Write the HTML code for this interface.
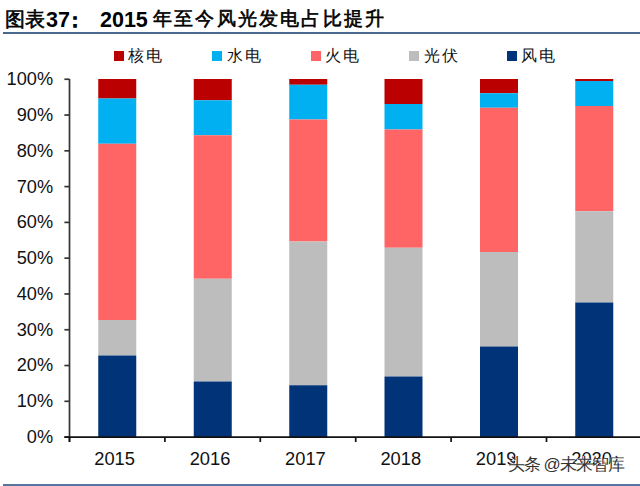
<!DOCTYPE html>
<html><head><meta charset="utf-8"><style>
html,body{margin:0;padding:0;background:#fff;width:640px;height:486px;overflow:hidden;position:relative}
.t{position:absolute;white-space:nowrap;line-height:1}
.ttl{font-family:"Liberation Serif",serif;font-weight:400;-webkit-text-stroke:0.6px #000;font-size:20px;color:#000}
.num{font-family:"Liberation Sans",sans-serif;font-weight:bold;font-size:21.5px;color:#000}
.lg{font-family:"Liberation Serif",serif;font-size:16px;color:#111;letter-spacing:2px}
.mk{position:absolute;width:10px;height:10px}
.hl{position:absolute;left:3px;width:637px;background:#56759F}
.wm{font-family:"Liberation Sans",sans-serif;font-size:17px;letter-spacing:-0.9px;color:#333;text-shadow:0.5px 0.5px 0 #fff,-0.5px -0.5px 0 #fff}
</style></head><body>
<svg width="640" height="486" viewBox="0 0 640 486" style="position:absolute;left:0;top:0">
<rect x="98.25" y="79" width="38" height="19.50" fill="#BA0000"/><rect x="98.25" y="98.5" width="38" height="45.25" fill="#00B0F0"/><rect x="98.25" y="143.75" width="38" height="176.25" fill="#FF6565"/><rect x="98.25" y="320" width="38" height="35.50" fill="#BDBDBD"/><rect x="98.25" y="355.5" width="38" height="81.60" fill="#003378"/><rect x="193.75" y="79" width="38" height="21.25" fill="#BA0000"/><rect x="193.75" y="100.25" width="38" height="35.00" fill="#00B0F0"/><rect x="193.75" y="135.25" width="38" height="143.50" fill="#FF6565"/><rect x="193.75" y="278.75" width="38" height="102.75" fill="#BDBDBD"/><rect x="193.75" y="381.5" width="38" height="55.60" fill="#003378"/><rect x="289.25" y="79" width="38" height="5.75" fill="#BA0000"/><rect x="289.25" y="84.75" width="38" height="34.75" fill="#00B0F0"/><rect x="289.25" y="119.5" width="38" height="122.00" fill="#FF6565"/><rect x="289.25" y="241.5" width="38" height="143.75" fill="#BDBDBD"/><rect x="289.25" y="385.25" width="38" height="51.85" fill="#003378"/><rect x="384.5" y="79" width="38" height="25.00" fill="#BA0000"/><rect x="384.5" y="104" width="38" height="25.50" fill="#00B0F0"/><rect x="384.5" y="129.5" width="38" height="118.25" fill="#FF6565"/><rect x="384.5" y="247.75" width="38" height="128.75" fill="#BDBDBD"/><rect x="384.5" y="376.5" width="38" height="60.60" fill="#003378"/><rect x="480" y="79" width="38" height="14.25" fill="#BA0000"/><rect x="480" y="93.25" width="38" height="14.50" fill="#00B0F0"/><rect x="480" y="107.75" width="38" height="144.25" fill="#FF6565"/><rect x="480" y="252" width="38" height="94.50" fill="#BDBDBD"/><rect x="480" y="346.5" width="38" height="90.60" fill="#003378"/><rect x="575.25" y="79" width="38" height="2.00" fill="#BA0000"/><rect x="575.25" y="81" width="38" height="25.00" fill="#00B0F0"/><rect x="575.25" y="106" width="38" height="105.25" fill="#FF6565"/><rect x="575.25" y="211.25" width="38" height="91.25" fill="#BDBDBD"/><rect x="575.25" y="302.5" width="38" height="134.60" fill="#003378"/>
<g stroke="#333" stroke-width="1.7">
<line x1="69.5" y1="79" x2="69.5" y2="442"/>
<line x1="64.4" y1="437.10" x2="69.5" y2="437.10"/><line x1="64.4" y1="401.31" x2="69.5" y2="401.31"/><line x1="64.4" y1="365.53" x2="69.5" y2="365.53"/><line x1="64.4" y1="329.75" x2="69.5" y2="329.75"/><line x1="64.4" y1="293.96" x2="69.5" y2="293.96"/><line x1="64.4" y1="258.18" x2="69.5" y2="258.18"/><line x1="64.4" y1="222.39" x2="69.5" y2="222.39"/><line x1="64.4" y1="186.60" x2="69.5" y2="186.60"/><line x1="64.4" y1="150.82" x2="69.5" y2="150.82"/><line x1="64.4" y1="115.04" x2="69.5" y2="115.04"/><line x1="64.4" y1="79.25" x2="69.5" y2="79.25"/>
</g>
<g stroke="#111" stroke-width="1.7">
<line x1="64.4" y1="437.1" x2="640" y2="437.1"/>
<line x1="69.50" y1="437" x2="69.50" y2="442"/><line x1="164.90" y1="437" x2="164.90" y2="442"/><line x1="260.30" y1="437" x2="260.30" y2="442"/><line x1="355.70" y1="437" x2="355.70" y2="442"/><line x1="451.10" y1="437" x2="451.10" y2="442"/><line x1="546.50" y1="437" x2="546.50" y2="442"/><line x1="641.90" y1="437" x2="641.90" y2="442"/>
</g>
<g font-family="Liberation Sans, sans-serif" fill="#111">
<g font-size="18.2"><text x="53.1" y="443.00" text-anchor="end">0%</text><text x="53.1" y="407.21" text-anchor="end">10%</text><text x="53.1" y="371.43" text-anchor="end">20%</text><text x="53.1" y="335.64" text-anchor="end">30%</text><text x="53.1" y="299.86" text-anchor="end">40%</text><text x="53.1" y="264.07" text-anchor="end">50%</text><text x="53.1" y="228.29" text-anchor="end">60%</text><text x="53.1" y="192.50" text-anchor="end">70%</text><text x="53.1" y="156.72" text-anchor="end">80%</text><text x="53.1" y="120.94" text-anchor="end">90%</text><text x="53.1" y="85.15" text-anchor="end">100%</text></g>
<g font-size="18.3"><text x="114.60" y="465.4" text-anchor="middle">2015</text><text x="210.00" y="465.4" text-anchor="middle">2016</text><text x="305.40" y="465.4" text-anchor="middle">2017</text><text x="400.80" y="465.4" text-anchor="middle">2018</text><text x="496.20" y="465.4" text-anchor="middle">2019</text><text x="591.60" y="465.4" text-anchor="middle">2020</text></g>
</g>
</svg>
<div class="t ttl" style="left:5px;top:9.3px;letter-spacing:-0.5px">图表</div>
<div class="t num" style="left:46px;top:10.3px">37</div>
<div class="t ttl" style="left:64.5px;top:10.3px;-webkit-text-stroke:1.4px #000">：</div>
<div class="t num" style="left:100px;top:10.3px">2015</div>
<div class="t ttl" style="left:153px;top:10.4px;letter-spacing:2.2px;font-size:18.8px">年至今风光发电占比提升</div>
<div class="hl" style="top:32.2px;height:2px;background:#4B6890"></div>
<div class="mk" style="left:114px;top:51px;background:#BA0000"></div>
<div class="t lg" style="left:128px;top:48.4px">核电</div>
<div class="mk" style="left:212px;top:51px;background:#00B0F0"></div>
<div class="t lg" style="left:227px;top:48.4px">水电</div>
<div class="mk" style="left:311px;top:51px;background:#FF6565"></div>
<div class="t lg" style="left:325px;top:48.4px">火电</div>
<div class="mk" style="left:409px;top:51px;background:#BDBDBD"></div>
<div class="t lg" style="left:424px;top:48.4px">光伏</div>
<div class="mk" style="left:507px;top:51px;background:#003378"></div>
<div class="t lg" style="left:521px;top:48.4px">风电</div>
<div class="t wm" style="left:507.5px;top:455.6px">头条 @未来智库</div>
<div class="hl" style="top:484px;height:2px"></div>
</body></html>
